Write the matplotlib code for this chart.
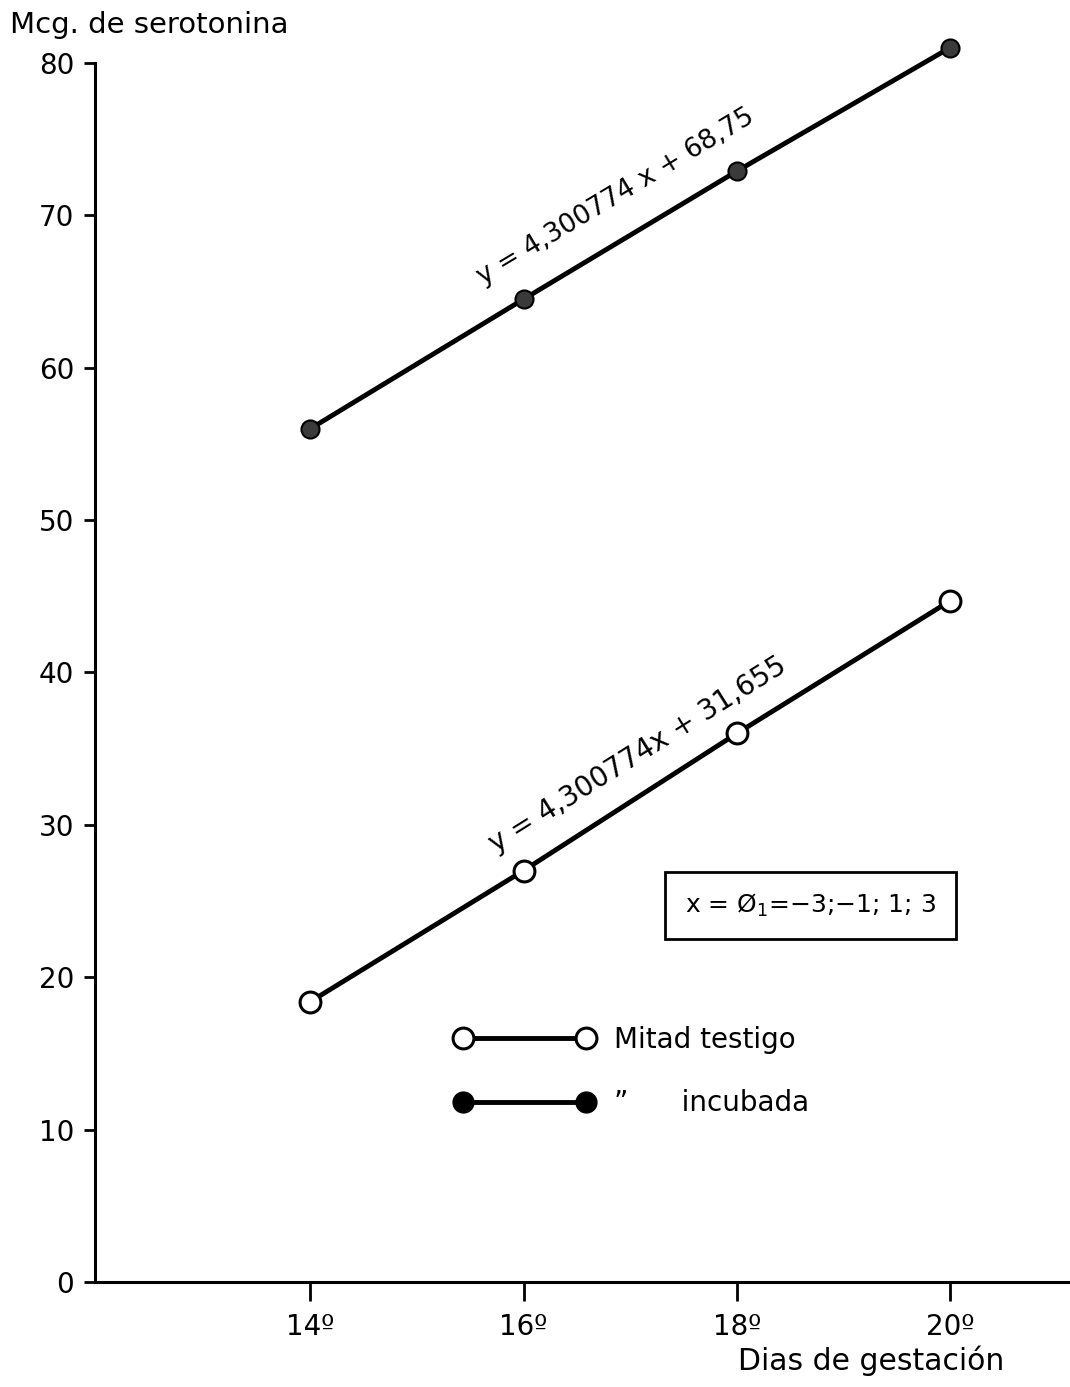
import numpy as np
import matplotlib.pyplot as plt
from matplotlib.lines import Line2D

# data
dias = [14, 16, 18, 20]
dia_labels = ["14º", "16º", "18º", "20º"]
testigo = [18.4, 27.0, 36.0, 44.7]
incubada = [56.0, 64.5, 72.9, 81.0]
y_ticks = [0, 10, 20, 30, 40, 50, 60, 70, 80]

plt.rcParams['font.family'] = ['DejaVu Sans']

fig = plt.figure(figsize=(10.70, 13.87), dpi=100)
ax = fig.add_axes([0.0888, 0.0757, 0.9112, 0.8789])

ax.plot(dias, incubada, color='black', lw=3.5, marker='o', ms=13,
        mfc='#3a3a3a', mec='black', mew=1.5, zorder=3, clip_on=False)
ax.plot(dias, testigo, color='black', lw=3.5, marker='o', ms=15,
        mfc='white', mec='black', mew=2.2, zorder=3, clip_on=False)

ax.set_xlim(11.98, 21.125)
ax.set_ylim(0, 80)
ax.set_xticks(dias)
ax.set_xticklabels(dia_labels)
ax.set_yticks(y_ticks)

for s in ['top', 'right']:
    ax.spines[s].set_visible(False)
for s in ['left', 'bottom']:
    ax.spines[s].set_linewidth(2.2)

ax.tick_params(axis='y', direction='out', length=8, width=2, pad=7, labelsize=20)
ax.tick_params(axis='x', direction='out', length=14, width=2, pad=8, labelsize=20)

# regression equations along the lines
ax.text(16.86, 71.2, "y = 4,300774 x + 68,75", rotation=31, rotation_mode='anchor',
        ha='center', va='center', fontsize=19)
ax.text(17.07, 34.6, "y = 4,300774x + 31,655", rotation=32, rotation_mode='anchor',
        ha='center', va='center', fontsize=20)

# box with the orthogonal polynomial coefficients
ax.text(18.69, 24.7, "x = Ø$_1$=−3;−1; 1; 3", ha='center', va='center', fontsize=18,
        bbox=dict(boxstyle='square,pad=0.8', fc='white', ec='black', lw=2))

handles = [
    Line2D([], [], color='black', lw=3.5, marker='o', ms=15, mfc='white', mec='black', mew=2.2),
    Line2D([], [], color='black', lw=3.5, marker='o', ms=15, mfc='black', mec='black'),
]
ax.legend(handles, ["Mitad testigo", "\u201d      incubada"], loc='upper left',
          bbox_to_anchor=(0.355, 0.2215), frameon=False, fontsize=20,
          handlelength=5.0, labelspacing=1.28, handletextpad=0.72, borderpad=0,
          numpoints=2)

ax.set_xlabel("Dias de gestación", fontsize=21.5)
ax.xaxis.set_label_coords(0.796, -0.052)

fig.text(0.009, 0.992, "Mcg. de serotonina", ha='left', va='top', fontsize=21)

fig.savefig("out.png", dpi=100, facecolor='white')
